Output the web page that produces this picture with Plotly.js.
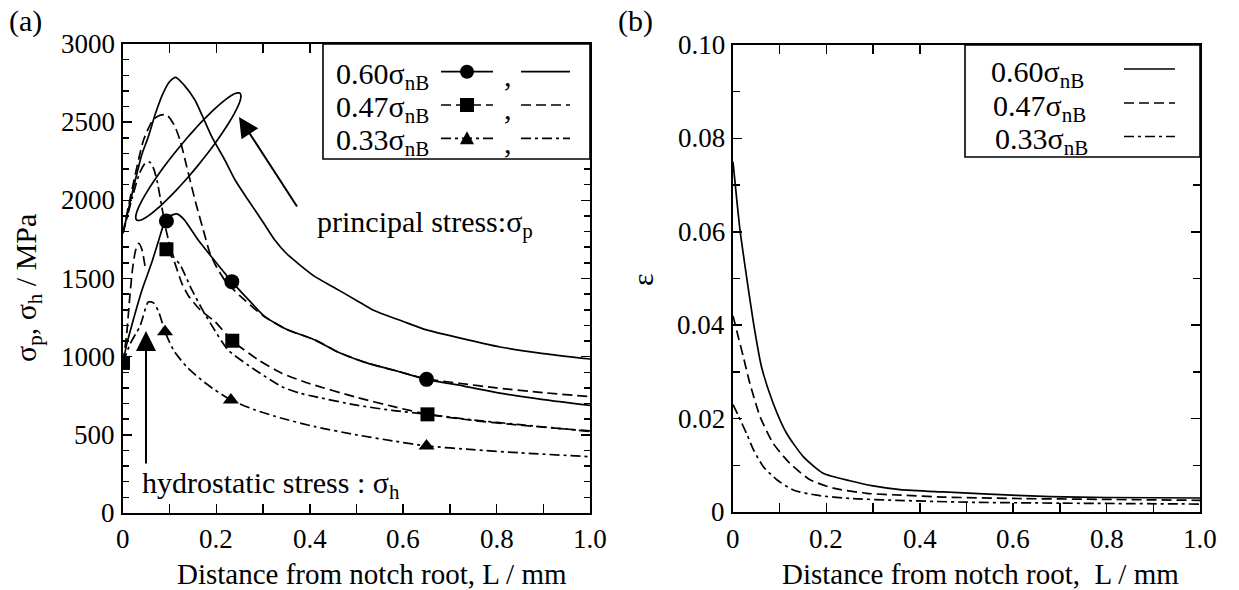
<!DOCTYPE html>
<html><head><meta charset="utf-8">
<script src="https://cdn.plot.ly/plotly-3.0.1.min.js"></script>
<style>html,body{margin:0;padding:0;background:#fff;}#chart{width:1239px;height:590px;}</style>
</head><body><div id="chart"></div>
<script>
// ---------------- DATA ----------------
const loadLabels = ['0.60', '0.47', '0.33'];

// (a) principal stress σp  [MPa] vs distance L [mm]
const p60x = [0, 0.02, 0.04, 0.054, 0.07, 0.085, 0.1, 0.113, 0.13, 0.154, 0.17, 0.19, 0.218, 0.24, 0.268, 0.3, 0.325, 0.35, 0.379, 0.411, 0.45, 0.5, 0.535, 0.6, 0.65, 0.72, 0.807, 0.9, 1.0];
const p60y = [1790, 2050, 2290, 2405, 2560, 2680, 2760, 2787, 2740, 2642, 2540, 2407, 2258, 2130, 2002, 1860, 1746, 1660, 1586, 1512, 1446, 1360, 1299, 1225, 1171, 1120, 1062, 1020, 985];
const p47x = [0, 0.02, 0.044, 0.064, 0.08, 0.094, 0.11, 0.122, 0.133, 0.147, 0.158, 0.172, 0.186, 0.2, 0.22, 0.25, 0.3, 0.35, 0.411, 0.46, 0.522, 0.59, 0.65, 0.72, 0.8, 0.9, 1.0];
const p47y = [1790, 2080, 2386, 2514, 2545, 2546, 2480, 2386, 2258, 2088, 1959, 1810, 1663, 1575, 1480, 1390, 1262, 1175, 1107, 1030, 960, 905, 858, 830, 800, 770, 744];
const p33x = [0, 0.02, 0.035, 0.047, 0.057, 0.066, 0.074, 0.083, 0.093, 0.108, 0.122, 0.147, 0.172, 0.19, 0.225, 0.283, 0.34, 0.379, 0.411, 0.5, 0.58, 0.652, 0.75, 0.85, 1.0];
const p33y = [1790, 2020, 2170, 2235, 2245, 2200, 2110, 1960, 1800, 1640, 1590, 1430, 1290, 1200, 1043, 915, 808, 766, 744, 690, 655, 631, 595, 565, 522];

// (a) hydrostatic stress σh  (null = gap in the drawn curve)
const h60x = [0, 0.008, 0.018, 0.04, 0.061, 0.075, 0.089, 0.1, 0.115, 0.13, 0.161, 0.2, 0.233, 0.27, 0.304, 0.35, 0.411, 0.46, 0.522, 0.59, 0.65, 0.73, 0.807, 0.9, 1.0];
const h60y = [960, 1080, 1192, 1420, 1597, 1730, 1860, 1900, 1913, 1880, 1746, 1600, 1480, 1360, 1256, 1175, 1107, 1030, 960, 905, 855, 812, 767, 725, 688];
const h47x = [0, 0.008, 0.015, 0.021, 0.027, 0.034, 0.041, 0.047, null, 0.093, 0.108, 0.126, 0.14, 0.165, 0.197, 0.234, 0.29, 0.34, 0.397, 0.5, 0.58, 0.652, 0.75, 0.85, 1.0];
const h47y = [960, 1150, 1400, 1576, 1680, 1725, 1680, 1580, null, 1687, 1620, 1469, 1390, 1300, 1224, 1102, 979, 894, 830, 740, 680, 631, 592, 562, 525];
const h33x = [0, 0.015, 0.028, 0.036, 0.043, 0.054, 0.065, 0.076, 0.09, 0.108, 0.136, 0.168, 0.197, 0.231, 0.283, 0.34, 0.411, 0.5, 0.58, 0.65, 0.75, 0.85, 1.0];
const h33y = [960, 1080, 1150, 1192, 1256, 1350, 1345, 1290, 1160, 1043, 936, 851, 787, 723, 659, 606, 552, 500, 460, 429, 405, 385, 360];

// (a) marker points
const m60x = [0.093, 0.233, 0.65];        const m60y = [1868, 1480, 855];
const m47x = [0, 0.093, 0.234, 0.652];    const m47y = [960, 1687, 1102, 631];
const m33x = [0.09, 0.231, 0.65];         const m33y = [1160, 723, 429];

// (b) strain ε vs distance
const e60x = [0, 0.015, 0.029, 0.044, 0.061, 0.086, 0.115, 0.151, 0.193, 0.25, 0.3, 0.358, 0.45, 0.536, 0.679, 0.8, 1.0];
const e60y = [0.075, 0.0604, 0.0504, 0.0404, 0.0311, 0.0233, 0.0168, 0.0118, 0.0083, 0.0067, 0.0056, 0.0048, 0.0043, 0.0039, 0.0033, 0.0031, 0.0030];
const e47x = [0, 0.01, 0.022, 0.036, 0.058, 0.086, 0.122, 0.165, 0.215, 0.286, 0.36, 0.45, 0.6, 0.8, 1.0];
const e47y = [0.042, 0.038, 0.0333, 0.0276, 0.0204, 0.0147, 0.0104, 0.0069, 0.0051, 0.004, 0.0036, 0.0032, 0.0029, 0.0027, 0.0025];
const e33x = [0, 0.012, 0.029, 0.044, 0.065, 0.094, 0.129, 0.179, 0.25, 0.35, 0.5, 0.7, 1.0];
const e33y = [0.023, 0.0205, 0.0168, 0.0133, 0.0097, 0.0069, 0.0047, 0.0036, 0.0029, 0.0025, 0.0021, 0.0019, 0.0017];

// tick labels
const xTickVals = [0, 0.2, 0.4, 0.6, 0.8, 1.0];
const xTickText = ['0', '0.2', '0.4', '0.6', '0.8', '1.0'];
const yaTickVals = [0, 500, 1000, 1500, 2000, 2500, 3000];
const yaTickText = ['0', '500', '1000', '1500', '2000', '2500', '3000'];
const ybTickVals = [0, 0.02, 0.04, 0.06, 0.08, 0.10];
const ybTickText = ['0', '0.02', '0.04', '0.06', '0.08', '0.10'];

// ---------------- STYLE ----------------
const W = 1239, H = 590;
const FONT = 'Liberation Serif';
const FS = 30;      // annotation / legend text
const TFS = 27;     // tick labels
const TITLE_FS = 29;
const DASH = '10px,5px';
const DASHDOT = '10px,4px,3px,4px';
const styles = [
  {dash: 'solid', sym: 'circle'},
  {dash: DASH, sym: 'square'},
  {dash: DASHDOT, sym: 'triangle-up'}
];
const LW = 1.7;
const px = x => x / W;
const py = y => 1 - y / H;

function line(x, y, dash, xa, ya) {
  return {x: x, y: y, xaxis: xa, yaxis: ya, type: 'scatter', mode: 'lines', connectgaps: false,
          line: {color: 'black', width: LW, dash: dash, shape: 'spline', smoothing: 0.6},
          showlegend: false, hoverinfo: 'skip'};
}
function marks(x, y, sym, size) {
  return {x: x, y: y, xaxis: 'x', yaxis: 'y', type: 'scatter', mode: 'markers',
          marker: {symbol: sym, size: size, color: 'black'}, showlegend: false, hoverinfo: 'skip'};
}

const traces = [
  line(p60x, p60y, styles[0].dash, 'x', 'y'),
  line(p47x, p47y, styles[1].dash, 'x', 'y'),
  line(p33x, p33y, styles[2].dash, 'x', 'y'),
  line(h60x, h60y, styles[0].dash, 'x', 'y'),
  line(h47x, h47y, styles[1].dash, 'x', 'y'),
  line(h33x, h33y, styles[2].dash, 'x', 'y'),
  marks(m33x, m33y, 'triangle-up', 14),
  marks(m60x, m60y, 'circle', 15),
  marks(m47x, m47y, 'square', 14),
  line(e60x, e60y, styles[0].dash, 'x2', 'y2'),
  line(e47x, e47y, styles[1].dash, 'x2', 'y2'),
  line(e33x, e33y, styles[2].dash, 'x2', 'y2')
];

function axisBase(extra) {
  return Object.assign({
    showline: true, linecolor: 'black', linewidth: 2, mirror: 'ticks',
    ticks: 'inside', tickcolor: 'black', tickwidth: 1.5, ticklen: 9,
    showgrid: false, zeroline: false, fixedrange: true, showticklabels: false
  }, extra);
}

// ---------- shapes: legends, ellipse ----------
const shapes = [];
const annotations = [];
const tfont = {family: FONT, size: TFS, color: 'black'};
// Tick labels (placed on the axes' own data scales)
xTickVals.forEach((v, i) => {
  annotations.push({xref: 'x', yref: 'paper', x: v, y: py(539), text: xTickText[i], showarrow: false,
    xanchor: 'center', yanchor: 'middle', font: tfont});
  annotations.push({xref: 'x2', yref: 'paper', x: v, y: py(539), text: xTickText[i], showarrow: false,
    xanchor: 'center', yanchor: 'middle', font: tfont});
});
yaTickVals.forEach((v, i) => {
  annotations.push({xref: 'paper', yref: 'y', x: px(117), y: v, text: yaTickText[i], showarrow: false,
    xanchor: 'right', yanchor: 'middle', font: tfont});
});
ybTickVals.forEach((v, i) => {
  annotations.push({xref: 'paper', yref: 'y2', x: px(727), y: v, text: ybTickText[i], showarrow: false,
    xanchor: 'right', yanchor: 'middle', font: tfont});
});

// Left legend box
shapes.push({type: 'rect', xref: 'paper', yref: 'paper', x0: px(323), x1: px(590), y0: py(159), y1: py(44),
             line: {color: 'black', width: 1.6}, fillcolor: 'white', layer: 'above'});
const rowsA = [71.7, 105, 138.3];
rowsA.forEach((ry, i) => {
  annotations.push({xref: 'paper', yref: 'paper', x: px(334), y: py(ry + 4), xanchor: 'left', yanchor: 'middle',
    text: loadLabels[i] + 'σ<sub>nB</sub>', showarrow: false, font: {family: FONT, size: FS, color: 'black'}});
  shapes.push({type: 'line', xref: 'paper', yref: 'paper', x0: px(441), x1: px(493), y0: py(ry), y1: py(ry),
               line: {color: 'black', width: LW, dash: styles[i].dash}});
  shapes.push({type: 'line', xref: 'paper', yref: 'paper', x0: px(521), x1: px(570), y0: py(ry), y1: py(ry),
               line: {color: 'black', width: LW, dash: styles[i].dash}});
  annotations.push({xref: 'paper', yref: 'paper', x: px(508), y: py(ry + 4), xanchor: 'center', yanchor: 'middle',
    text: ',', showarrow: false, font: {family: FONT, size: FS, color: 'black'}});
  const cx = 467, r = 7;
  if (i === 0) {
    shapes.push({type: 'circle', xref: 'paper', yref: 'paper', x0: px(cx - r), x1: px(cx + r), y0: py(ry + r), y1: py(ry - r),
                 fillcolor: 'black', line: {width: 0}});
  } else if (i === 1) {
    shapes.push({type: 'rect', xref: 'paper', yref: 'paper', x0: px(cx - 7), x1: px(cx + 7), y0: py(ry + 7), y1: py(ry - 7),
                 fillcolor: 'black', line: {width: 0}});
  } else {
    const p = 'M ' + px(cx - 7) + ',' + py(ry + 6) + ' L ' + px(cx + 7) + ',' + py(ry + 6) + ' L ' + px(cx) + ',' + py(ry - 7) + ' Z';
    shapes.push({type: 'path', xref: 'paper', yref: 'paper', path: p, fillcolor: 'black', line: {width: 0}});
  }
});
// Right legend box
shapes.push({type: 'rect', xref: 'paper', yref: 'paper', x0: px(965), x1: px(1200), y0: py(157), y1: py(45),
             line: {color: 'black', width: 1.6}, fillcolor: 'white', layer: 'above'});
const rowsB = [69, 103, 136.5];
const textXB = [989, 991, 993];
rowsB.forEach((ry, i) => {
  annotations.push({xref: 'paper', yref: 'paper', x: px(textXB[i]), y: py(ry + 5), xanchor: 'left', yanchor: 'middle',
    text: loadLabels[i] + 'σ<sub>nB</sub>', showarrow: false, font: {family: FONT, size: FS, color: 'black'}});
  shapes.push({type: 'line', xref: 'paper', yref: 'paper', x0: px(1124), x1: px(1175), y0: py(ry), y1: py(ry),
               line: {color: 'black', width: LW, dash: styles[i].dash}});
});

// Ellipse around principal-stress curves (annotation drawing)
(function () {
  const t1 = [136.7, 220], t2 = [240, 93.3];
  const c = [(t1[0] + t2[0]) / 2, (t1[1] + t2[1]) / 2];
  const dx = t2[0] - t1[0], dy = t2[1] - t1[1];
  const L = Math.hypot(dx, dy);
  const u = [dx / L, dy / L], v = [-u[1], u[0]];
  const a = L / 2, b = 13;
  let path = '';
  for (let k = 0; k <= 72; k++) {
    const t = 2 * Math.PI * k / 72;
    const X = c[0] + a * Math.cos(t) * u[0] + b * Math.sin(t) * v[0];
    const Y = c[1] + a * Math.cos(t) * u[1] + b * Math.sin(t) * v[1];
    path += (k === 0 ? 'M ' : ' L ') + px(X).toFixed(5) + ',' + py(Y).toFixed(5);
  }
  shapes.push({type: 'path', xref: 'paper', yref: 'paper', path: path + ' Z', line: {color: 'black', width: 1.7}});
})();

// Text annotations
const txt = (x, y, s, opts) => Object.assign({xref: 'paper', yref: 'paper', x: px(x), y: py(y), text: s, showarrow: false,
  font: {family: FONT, size: FS, color: 'black'}}, opts || {});
const titleFont = {family: FONT, size: TITLE_FS, color: 'black'};
annotations.push(txt(25, 21, '(a)', {xanchor: 'center', yanchor: 'middle'}));
annotations.push(txt(635, 21, '(b)', {xanchor: 'center', yanchor: 'middle'}));
annotations.push(txt(28, 288, 'σ<sub>p</sub>, σ<sub>h</sub> / MPa', {xanchor: 'center', yanchor: 'middle', textangle: -90}));
annotations.push(txt(642, 280, 'ε', {xanchor: 'center', yanchor: 'middle', textangle: -90}));
annotations.push(txt(372, 574, 'Distance from notch root, L / mm', {xanchor: 'center', yanchor: 'middle', font: titleFont}));
annotations.push(txt(980, 574, 'Distance from notch root,\u00A0 L / mm', {xanchor: 'center', yanchor: 'middle', font: titleFont}));
annotations.push(txt(315, 224, 'principal stress:σ<sub>p</sub>', {xanchor: 'left', yanchor: 'middle'}));
annotations.push(txt(140, 485, 'hydrostatic stress : σ<sub>h</sub>', {xanchor: 'left', yanchor: 'middle'}));
// Arrows
annotations.push({xref: 'paper', yref: 'paper', x: px(239), y: py(117), ax: 59, ay: 91, text: '', showarrow: true,
  arrowhead: 2, arrowsize: 2, arrowwidth: 2, arrowcolor: 'black', standoff: 0});
annotations.push({xref: 'paper', yref: 'paper', x: px(146), y: py(331), ax: 0, ay: 134, text: '', showarrow: true,
  arrowhead: 2, arrowsize: 2, arrowwidth: 2, arrowcolor: 'black', standoff: 0});

const layout = {
  width: W, height: H, margin: {l: 0, r: 0, t: 0, b: 0},
  paper_bgcolor: 'white', plot_bgcolor: 'white', showlegend: false,
  font: {family: FONT, size: TFS, color: 'black'},
  xaxis: axisBase({domain: [px(123), px(590)], range: [0, 1], tickvals: xTickVals,
    minor: {dtick: 0.1, tick0: 0, ticks: 'inside', ticklen: 9, tickcolor: 'black', tickwidth: 1.5}, anchor: 'y'}),
  yaxis: axisBase({domain: [1 - 513 / H, 1 - 44 / H], range: [0, 3000], tickvals: yaTickVals,
    minor: {dtick: 100, tick0: 0, ticks: 'inside', ticklen: 6, tickcolor: 'black', tickwidth: 1.5}, anchor: 'x'}),
  xaxis2: axisBase({domain: [px(733), px(1200)], range: [0, 1], tickvals: xTickVals,
    minor: {dtick: 0.1, tick0: 0, ticks: 'inside', ticklen: 9, tickcolor: 'black', tickwidth: 1.5}, anchor: 'y2'}),
  yaxis2: axisBase({domain: [1 - 512 / H, 1 - 45 / H], range: [0, 0.1], tickvals: ybTickVals,
    minor: {dtick: 0.01, tick0: 0, ticks: 'inside', ticklen: 7, tickcolor: 'black', tickwidth: 1.5}, anchor: 'x2'}),
  shapes: shapes,
  annotations: annotations
};

Plotly.newPlot('chart', traces, layout, {staticPlot: true, displayModeBar: false});
</script>
</body></html>
